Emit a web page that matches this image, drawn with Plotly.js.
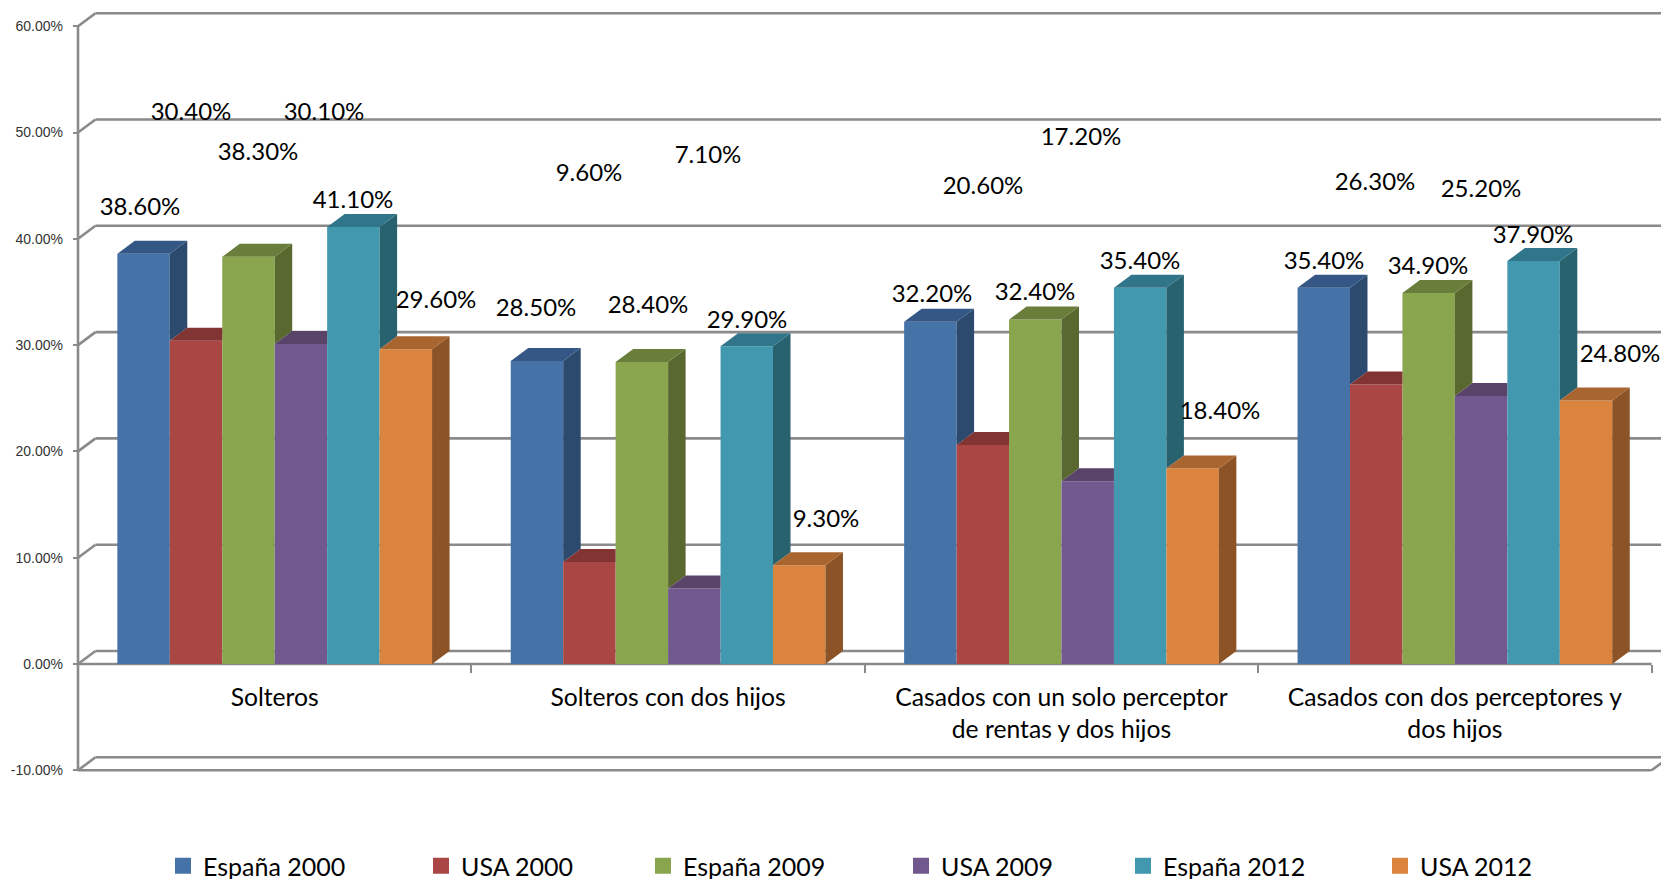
<!DOCTYPE html>
<html><head><meta charset="utf-8">
<script src="https://cdn.plot.ly/plotly-3.0.1.min.js"></script>
<style>html,body{margin:0;padding:0;background:#fff;overflow:hidden}</style>
</head><body><div id="chart" style="width:1661px;height:879px"></div>
<script>
// ---- data ----
const categories = ["Solteros","Solteros con dos hijos","Casados con un solo perceptor<br>de rentas y dos hijos","Casados con dos perceptores y<br>dos hijos"];
const seriesNames = ["España 2000","USA 2000","España 2009","USA 2009","España 2012","USA 2012"];
const espana2000 = [38.6,28.5,32.2,35.4];
const usa2000    = [30.4,9.6,20.6,26.3];
const espana2009 = [38.3,28.4,32.4,34.9];
const usa2009    = [30.1,7.1,17.2,25.2];
const espana2012 = [41.1,29.9,35.4,37.9];
const usa2012    = [29.6,9.3,18.4,24.8];
const yTicks = [-10,0,10,20,30,40,50,60];
// ---- styling ----
const frontColors = ["#4572A7","#AA4643","#89A54E","#71588F","#4198AF","#DB843D"];
const sideColors  = ["#2C4A6E","#6F2E2C","#59682F","#4A3A5E","#29626F","#8C5326"];
const topColors   = ["#345785","#823433","#6A7E3C","#5A4369","#31758A","#A96530"];
// label centres, in page pixels (placed by hand in the original chart)
const labelPx = [
 [[140,209],[536,310],[932,296],[1324,263]],
 [[191,114],[589,175],[983,188],[1375,184]],
 [[258,154],[648,307],[1035,294],[1428,268]],
 [[324,114],[708,157],[1081,139],[1481,191]],
 [[353,202],[747,322],[1140,263],[1533,237]],
 [[436,302],[826,521],[1220,413],[1620,356]]
];
const legendTextStart = [203,461,683,941,1163,1420];
// ---- geometry ----
const W=1661,H=879,X0=78,pxPerCat=393.4,Y0=664,pxPerPct=10.63;
const plotLeft=73,plotTop=9,plotBottom=776;
const dX=17.5/pxPerCat, dY=13/pxPerPct;
const xLo=(plotLeft-X0)/pxPerCat, xHi=(W-X0)/pxPerCat;
const yHi=(Y0-plotTop)/pxPerPct, yLo=(Y0-plotBottom)/pxPerPct;
const series=[espana2000,usa2000,espana2009,usa2009,espana2012,usa2012];
const barW=0.8/6, grpStart=0.1;
const xc=categories.map((_,i)=>i+0.5);
const traces=[];
// front faces
series.forEach((vals,s)=>traces.push({type:'bar',name:seriesNames[s],x:xc,y:vals,showlegend:false,
  marker:{color:frontColors[s],line:{width:0}},hoverinfo:'name+y'}));
// top + side faces, clipped where the next bar's front hides them
series.forEach((vals,s)=>{
  const sx=[],sy=[],tx=[],ty=[];
  vals.forEach((v,g)=>{
    const xl=g+grpStart+s*barW, xr=xl+barW;
    const next=s<5?series[s+1][g]:0;
    const taller=next>=v;
    tx.push(xl,xr); ty.push(v,v);
    if(taller){tx.push(xr);ty.push(v+dY);} else {tx.push(xr+dX);ty.push(v+dY);}
    tx.push(xl+dX,null); ty.push(v+dY,null);
    if(!taller){
      sx.push(xr,xr+dX,xr+dX,xr,null);
      sy.push(v,v+dY,next+dY,next,null);
    }
  });
  traces.push({type:'scatter',mode:'lines',x:sx,y:sy,fill:'toself',fillcolor:sideColors[s],line:{width:0},showlegend:false,hoverinfo:'skip'});
  traces.push({type:'scatter',mode:'lines',x:tx,y:ty,fill:'toself',fillcolor:topColors[s],line:{width:0},showlegend:false,hoverinfo:'skip'});
});
// data labels
series.forEach((vals,s)=>traces.push({type:'scatter',mode:'text',showlegend:false,hoverinfo:'skip',
  x:labelPx[s].map(p=>(p[0]-X0)/pxPerCat), y:labelPx[s].map(p=>(Y0-p[1])/pxPerPct),
  text:vals.map(v=>v.toFixed(2)+'%'),textposition:'middle center',
  textfont:{family:'Lato',size:24,color:'#000'},cliponaxis:false}));
// legend keys
series.forEach((vals,s)=>traces.push({type:'scatter',mode:'markers',name:seriesNames[s],x:[null],y:[null],
  marker:{symbol:'square',size:16,color:frontColors[s]},legend:s?('legend'+(s+1)):'legend',showlegend:true}));
// walls
const gray='#8A8A8A';
const seg=(x0,y0,x1,y1)=>({type:'line',layer:'below',xref:'x',yref:'y',x0,y0,x1,y1,line:{color:gray,width:2.6}});
const shapes=[];
yTicks.forEach(v=>{shapes.push(seg(dX,v+dY,xHi,v+dY));shapes.push(seg(0,v,dX,v+dY));});
shapes.push(seg(0,-10,0,60));
shapes.push(seg(0,0,categories.length,0));
shapes.push(seg(0,-10,categories.length,-10));
shapes.push(seg(categories.length,-10,categories.length+dX,-10+dY));
const layout={
  width:W,height:H,paper_bgcolor:'#fff',plot_bgcolor:'#fff',
  margin:{l:plotLeft,r:0,t:plotTop,b:H-plotBottom,pad:0,autoexpand:false},
  barmode:'group',bargap:0.2,bargroupgap:0,
  xaxis:{type:'linear',range:[xLo,xHi],tickmode:'array',tickvals:xc,ticktext:categories,ticks:'',ticklabelstandoff:16,tickangle:0,
    anchor:'free',position:(0-yLo)/(yHi-yLo),showgrid:false,zeroline:false,showline:false,
    tickfont:{family:'Lato',size:24.7,color:'#000'},
    minor:{tickmode:'array',tickvals:[0,1,2,3,4],ticks:'outside',ticklen:8,tickwidth:2,tickcolor:gray,showgrid:false}},
  yaxis:{range:[yLo,yHi],tickmode:'array',tickvals:yTicks,ticktext:yTicks.map(v=>v.toFixed(2)+'%'),ticks:'inside',ticklen:5,tickwidth:2,tickcolor:gray,ticklabelstandoff:9,
    showgrid:false,zeroline:false,showline:false,tickfont:{family:'Liberation Sans',size:14,color:'#333'}},
  shapes,showlegend:true
};
legendTextStart.forEach((px,s)=>{
  layout[s?('legend'+(s+1)):'legend']={xref:'container',yref:'container',x:(px-40)/W,y:1-866/H,xanchor:'left',yanchor:'middle',
    bgcolor:'rgba(0,0,0,0)',borderwidth:0,font:{family:'Lato',size:25,color:'#000'}};
});
Plotly.newPlot('chart',traces,layout,{displayModeBar:false});
</script></body></html>
